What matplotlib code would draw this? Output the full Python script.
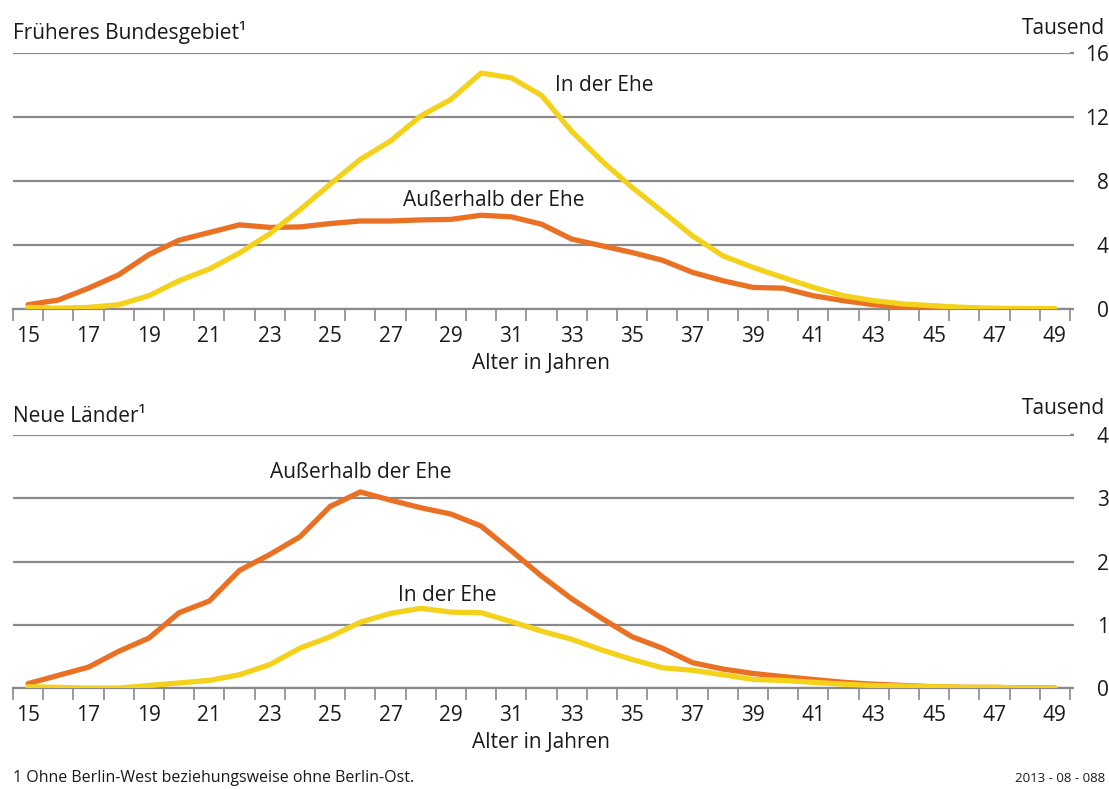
import matplotlib
matplotlib.use("Agg")
import matplotlib.pyplot as plt
from matplotlib.ticker import FixedLocator

plt.rcParams['font.family'] = ['Open Sans', 'DejaVu Sans']

ages = list(range(15, 50))
xtick_labels = [str(a) for a in range(15, 50, 2)]

# Früheres Bundesgebiet (Tausend)
west_in_ehe = [0.10, 0.05, 0.10, 0.27, 0.83, 1.77, 2.50, 3.50, 4.70, 6.20,
               7.80, 9.35, 10.50, 12.06, 13.10, 14.75, 14.45, 13.35, 11.10, 9.25,
               7.60, 6.10, 4.57, 3.33, 2.60, 1.97, 1.35, 0.83, 0.52, 0.31,
               0.20, 0.10, 0.05, 0.03, 0.02]
west_ausser = [0.27, 0.56, 1.30, 2.14, 3.40, 4.30, 4.78, 5.26, 5.10, 5.13,
               5.34, 5.50, 5.50, 5.57, 5.60, 5.86, 5.76, 5.30, 4.37, 3.95,
               3.53, 3.05, 2.29, 1.77, 1.35, 1.30, 0.83, 0.52, 0.27, 0.12,
               0.06, 0.03, 0.02, 0.01, 0.00]

# Neue Länder (Tausend)
ost_in_ehe = [0.02, 0.01, 0.00, 0.00, 0.04, 0.08, 0.12, 0.21, 0.37, 0.63,
              0.81, 1.04, 1.18, 1.26, 1.20, 1.19, 1.05, 0.90, 0.77, 0.60,
              0.45, 0.32, 0.28, 0.21, 0.135, 0.12, 0.09, 0.06, 0.04, 0.03,
              0.02, 0.01, 0.01, 0.00, 0.00]
ost_ausser = [0.07, 0.20, 0.33, 0.58, 0.79, 1.19, 1.375, 1.86, 2.11, 2.39,
              2.87, 3.10, 2.97, 2.85, 2.75, 2.56, 2.17, 1.77, 1.41, 1.10,
              0.81, 0.63, 0.40, 0.30, 0.23, 0.18, 0.135, 0.09, 0.06, 0.04,
              0.02, 0.01, 0.01, 0.00, 0.00]

ORANGE = '#EA7024'
YELLOW = '#F4D21C'
GRID = '#8a8a8a'
TXT = '#1a1a1a'
FS = 15

W, H = 1109, 789
fig = plt.figure(figsize=(W / 100, H / 100), dpi=100)

def make_axes(bottom_px, top_px):
    left = 13 / W
    width = 1057 / W
    return fig.add_axes([left, 1 - bottom_px / H, width, (bottom_px - top_px) / H])

def style(ax, ymax, yticks):
    ax.set_xlim(14.5, 49.5)
    ax.set_ylim(0, ymax)
    for s in ['top', 'left', 'right']:
        ax.spines[s].set_visible(False)
    ax.spines['bottom'].set_color(GRID)
    ax.spines['bottom'].set_linewidth(1.6)
    ax.set_xticks(range(15, 50, 2))
    ax.set_xticklabels(xtick_labels, fontsize=FS, color=TXT)
    ax.xaxis.set_minor_locator(FixedLocator([a - 0.5 for a in range(15, 51)]))
    ax.tick_params(axis='x', which='major', length=0, pad=12.5)
    ax.tick_params(axis='x', which='minor', length=8.5, width=1.2, color=GRID)
    ax.yaxis.tick_right()
    ax.set_yticks(yticks)
    ax.set_yticklabels([str(t) for t in yticks], fontsize=FS, color=TXT)
    ax.tick_params(axis='y', length=3, width=1.6, color=GRID, pad=25)
    for lab in ax.get_yticklabels():
        lab.set_horizontalalignment('right')
    ax.grid(axis='y', color=GRID, linewidth=1.6)
    ax.set_axisbelow(True)
    ax.set_xlabel('Alter in Jahren', fontsize=FS, color=TXT, labelpad=4)
    ax.set_facecolor('none')

# top
ax1 = make_axes(309, 53)
style(ax1, 16, [0, 4, 8, 12, 16])
ax1.plot(ages, west_ausser, color=ORANGE, lw=3.8, solid_capstyle='round', solid_joinstyle='round', zorder=3)
ax1.plot(ages, west_in_ehe, color=YELLOW, lw=3.8, solid_capstyle='round', solid_joinstyle='round', zorder=4)
ax1.text(32.45, 14.0, 'In der Ehe', fontsize=FS, color=TXT, ha='left', va='center')
ax1.text(27.4, 6.8, 'Außerhalb der Ehe', fontsize=FS, color=TXT, ha='left', va='center')

# bottom
ax2 = make_axes(688, 435)
style(ax2, 4, [0, 1, 2, 3, 4])
ax2.plot(ages, ost_ausser, color=ORANGE, lw=3.8, solid_capstyle='round', solid_joinstyle='round', zorder=3)
ax2.plot(ages, ost_in_ehe, color=YELLOW, lw=3.8, solid_capstyle='round', solid_joinstyle='round', zorder=4)
ax2.text(23.0, 3.41, 'Außerhalb der Ehe', fontsize=FS, color=TXT, ha='left', va='center')
ax2.text(27.25, 1.47, 'In der Ehe', fontsize=FS, color=TXT, ha='left', va='center')

# titles and units
fig.text(13 / W, 1 - 33 / H, 'Früheres Bundesgebiet¹', fontsize=FS, color=TXT, ha='left', va='center')
fig.text(1105 / W, 1 - 28 / H, 'Tausend', fontsize=FS, color=TXT, ha='right', va='center')
fig.text(13 / W, 1 - 416 / H, 'Neue Länder¹', fontsize=FS, color=TXT, ha='left', va='center')
fig.text(1105 / W, 1 - 408 / H, 'Tausend', fontsize=FS, color=TXT, ha='right', va='center')

fig.text(13 / W, 1 - 778 / H, '1 Ohne Berlin-West beziehungsweise ohne Berlin-Ost.', fontsize=11.5, color=TXT, ha='left', va='center')
fig.text(1105 / W, 1 - 778 / H, '2013 - 08 - 088', fontsize=9.5, color=TXT, ha='right', va='center')

fig.savefig('out.png', dpi=100, facecolor='white')
